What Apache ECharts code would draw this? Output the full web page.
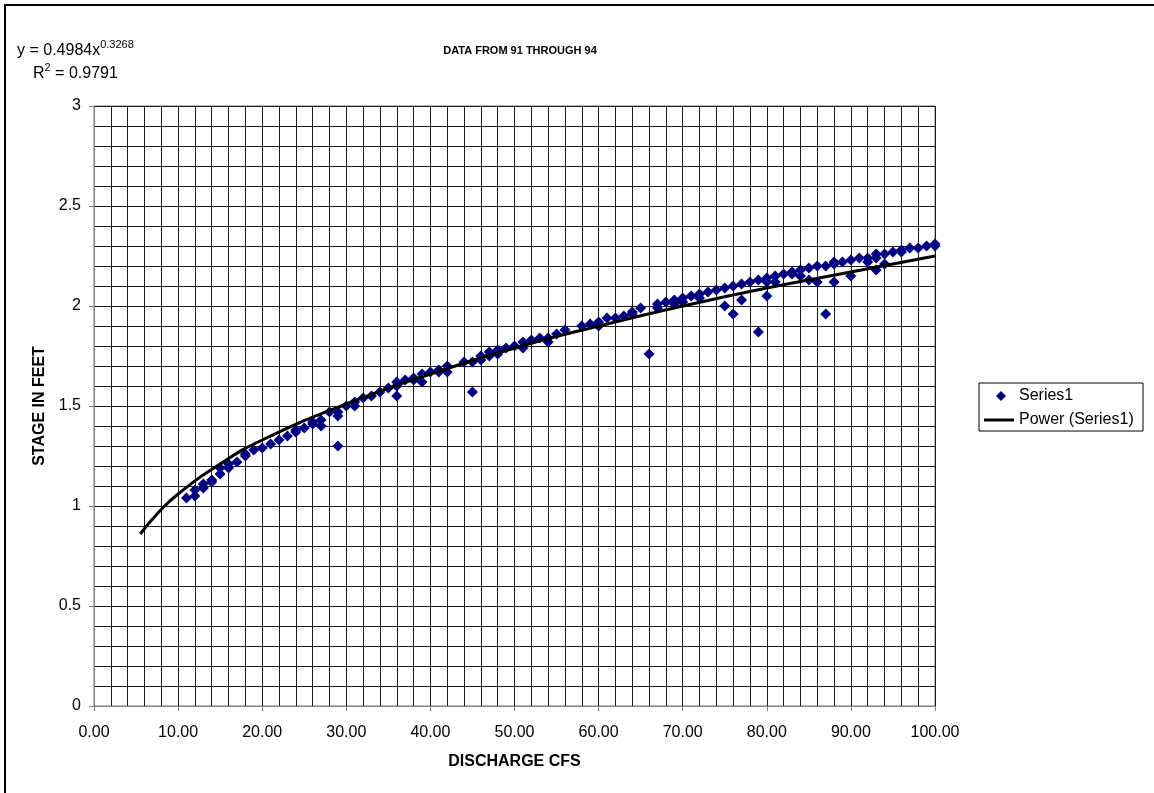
<!DOCTYPE html>
<html>
<head>
<meta charset="utf-8">
<title>Stage vs discharge</title>
<script src="https://cdn.jsdelivr.net/npm/echarts@6/dist/echarts.min.js"></script>
<style>
  html, body { margin: 0; padding: 0; background: #fff; }
  #chart { width: 1154px; height: 793px; }
</style>
</head>
<body>
<div id="chart"></div>
<script>
  // discharge (cfs) / stage (ft) pairs
  var dischargeCfs = [
    11, 12, 12, 13, 13, 14, 14, 15, 15, 16, 16, 17, 18, 18, 19, 20, 21, 22, 23, 24, 24, 25,
    26, 26, 27, 27, 28, 29, 29, 29, 30, 31, 31, 32, 33, 34, 35, 36, 36, 36, 37, 38, 38, 39, 39,
    40, 41, 41, 42, 42, 44, 45, 45, 46, 46, 47, 47, 48, 48, 49, 50, 51, 51, 52, 53, 54, 54,
    55, 56, 58, 59, 60, 60, 61, 62, 63, 64, 64, 65, 66, 67, 67, 68, 69, 69, 70, 70, 71, 72, 72,
    73, 74, 75, 75, 76, 76, 77, 77, 78, 79, 79, 80, 80, 80, 81, 81, 82, 83, 83, 84, 84, 85, 85,
    86, 86, 87, 87, 88, 88, 88, 89, 90, 90, 91, 92, 92, 93, 93, 93, 94, 94, 95, 96, 96, 97, 98,
    99, 100, 100
  ];
  var stageFeet = [
    1.04, 1.05, 1.08, 1.09, 1.11, 1.12, 1.13, 1.16, 1.19, 1.19, 1.21, 1.22, 1.25, 1.26, 1.28, 1.29, 1.31, 1.33, 1.35, 1.37, 1.38, 1.39,
    1.41, 1.42, 1.40, 1.43, 1.47, 1.30, 1.45, 1.47, 1.50, 1.50, 1.52, 1.54, 1.55, 1.57, 1.59, 1.55, 1.60, 1.62, 1.63, 1.63, 1.64, 1.62, 1.66,
    1.67, 1.67, 1.68, 1.67, 1.70, 1.72, 1.57, 1.72, 1.73, 1.75, 1.75, 1.77, 1.76, 1.78, 1.79, 1.80, 1.79, 1.82, 1.83, 1.84, 1.82, 1.84,
    1.86, 1.88, 1.90, 1.91, 1.90, 1.92, 1.94, 1.94, 1.95, 1.96, 1.97, 1.99, 1.76, 1.99, 2.01, 2.02, 2.01, 2.03, 2.02, 2.04, 2.05, 2.04, 2.06,
    2.07, 2.08, 2.00, 2.09, 1.96, 2.10, 2.03, 2.11, 2.12, 1.87, 2.13, 2.05, 2.12, 2.14, 2.12, 2.15, 2.16, 2.16, 2.17, 2.15, 2.18, 2.13, 2.19,
    2.12, 2.20, 1.96, 2.20, 2.12, 2.21, 2.22, 2.22, 2.15, 2.23, 2.24, 2.22, 2.24, 2.18, 2.24, 2.26, 2.21, 2.26, 2.27, 2.27, 2.28, 2.29, 2.29,
    2.30, 2.30, 2.31
  ];

  // power trendline, points
  var trendX = [5.5, 7.5, 10, 15, 20, 30, 40, 50, 60, 70, 80, 90, 100];
  var trendY = [0.86, 0.96, 1.06, 1.21, 1.33, 1.51, 1.66, 1.79, 1.90, 2.00, 2.09, 2.17, 2.25];

  var FONT = '"Liberation Sans", Arial, sans-serif';

  var scatterData = dischargeCfs.map(function (x, i) { return [x, stageFeet[i]]; });
  var trendData = trendX.map(function (x, i) { return [x, trendY[i]]; });

  var chart = echarts.init(document.getElementById('chart'));

  var supStyle = { fontFamily: FONT, fontSize: 11, color: '#000', padding: [0, 0, 12, 0] };

  var option = {
    animation: false,
    backgroundColor: '#fff',
    title: [{
      text: 'DATA FROM 91 THROUGH 94',
      left: 515,
      top: 40,
      textAlign: 'center',
      textStyle: { fontFamily: FONT, fontSize: 11, fontWeight: 'bold', color: '#000' }
    }, {
      text: 'y = 0.4984x{sup|0.3268}',
      left: 12,
      top: 34,
      textStyle: {
        fontFamily: FONT, fontSize: 16, fontWeight: 'normal', color: '#000',
        rich: { sup: supStyle }
      }
    }, {
      text: 'R{sup|2} = 0.9791',
      left: 28,
      top: 57,
      textStyle: {
        fontFamily: FONT, fontSize: 16, fontWeight: 'normal', color: '#000',
        rich: { sup: supStyle }
      }
    }],
    legend: [{
      left: 991,
      top: 383,
      itemWidth: 10,
      itemHeight: 10,
      selectedMode: false,
      data: [{ name: 'Series1', icon: 'diamond' }],
      textStyle: { fontFamily: FONT, fontSize: 16, color: '#000', padding: [0, 0, 0, 8] }
    }, {
      left: 979,
      top: 407,
      itemWidth: 30,
      itemHeight: 3,
      selectedMode: false,
      data: [{ name: 'Power (Series1)', icon: 'rect' }],
      textStyle: { fontFamily: FONT, fontSize: 16, color: '#000' }
    }],
    grid: {
      left: 94,
      right: 219,
      top: 106,
      bottom: 87,
      show: true,
      borderColor: '#808080',
      borderWidth: 1
    },
    xAxis: {
      type: 'value',
      min: 0,
      max: 100,
      interval: 10,
      name: 'DISCHARGE CFS',
      nameLocation: 'middle',
      nameGap: 48,
      nameTextStyle: { fontFamily: FONT, fontSize: 16, fontWeight: 'bold', color: '#000' },
      axisLine: { lineStyle: { color: '#808080', width: 1 } },
      axisTick: { show: true, inside: false, length: 5, lineStyle: { color: '#808080' } },
      axisLabel: {
        margin: 19,
        fontFamily: FONT, fontSize: 16, color: '#000',
        formatter: function (v) { return v.toFixed(2); }
      },
      splitLine: { show: true, lineStyle: { color: '#1a1a1a', width: 1 } },
      minorTick: { show: false, splitNumber: 5 },
      minorSplitLine: { show: true, lineStyle: { color: '#1a1a1a', width: 1 } }
    },
    yAxis: {
      type: 'value',
      min: 0,
      max: 3,
      interval: 0.5,
      name: 'STAGE IN FEET',
      nameLocation: 'middle',
      nameGap: 44,
      nameRotate: 90,
      nameTextStyle: { fontFamily: FONT, fontSize: 16, fontWeight: 'bold', color: '#000' },
      axisLine: { show: true, lineStyle: { color: '#808080', width: 1 } },
      axisTick: { show: true, inside: false, length: 5, lineStyle: { color: '#808080' } },
      axisLabel: {
        margin: 13,
        fontFamily: FONT, fontSize: 16, color: '#000',
        formatter: function (v) { return String(v); }
      },
      splitLine: { show: true, lineStyle: { color: '#1a1a1a', width: 1 } },
      minorTick: { show: false, splitNumber: 5 },
      minorSplitLine: { show: true, lineStyle: { color: '#1a1a1a', width: 1 } }
    },
    graphic: [{
      type: 'rect',
      shape: { x: 5, y: 5, width: 1170, height: 820 },
      style: { fill: 'none', stroke: '#000', lineWidth: 2 },
      silent: true
    }, {
      type: 'rect',
      shape: { x: 979, y: 383, width: 164, height: 48 },
      style: { fill: 'none', stroke: '#000', lineWidth: 1 },
      silent: true
    }],
    series: [{
      name: 'Series1',
      type: 'scatter',
      symbol: 'diamond',
      symbolSize: 11,
      itemStyle: { color: '#000080', opacity: 1 },
      data: scatterData
    }, {
      name: 'Power (Series1)',
      type: 'line',
      smooth: true,
      showSymbol: false,
      symbol: 'none',
      lineStyle: { color: '#000', width: 3 },
      itemStyle: { color: '#000' },
      data: trendData,
      z: 3
    }]
  };

  chart.setOption(option);
</script>
</body>
</html>
